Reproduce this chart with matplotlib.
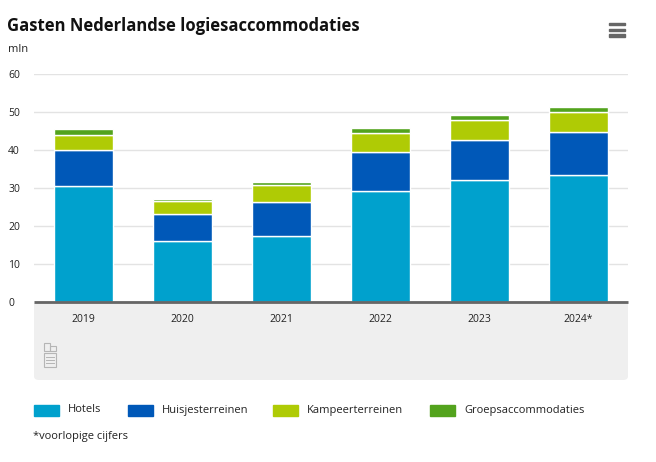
"""Gasten Nederlandse logiesaccommodaties, stacked bars per year."""

import matplotlib

matplotlib.use("Agg")
import matplotlib.pyplot as plt
import numpy as np
from matplotlib.patches import FancyBboxPatch, Rectangle

YEARS = ["2019", "2020", "2021", "2022", "2023", "2024*"]
HOTELS = [30.4, 16.0, 17.3, 29.1, 32.0, 33.3]
HUISJES = [9.5, 7.0, 8.9, 10.3, 10.5, 11.3]
KAMPEER = [4.1, 3.5, 4.5, 5.0, 5.3, 5.3]
GROEP = [1.6, 0.6, 0.9, 1.4, 1.5, 1.5]

SERIES = [
    ("Hotels", HOTELS, "#00a1cd"),
    ("Huisjesterreinen", HUISJES, "#0058b8"),
    ("Kampeerterreinen", KAMPEER, "#afcb05"),
    ("Groepsaccommodaties", GROEP, "#53a31d"),
]
LEGEND_X = [34, 128, 273, 430]  # left edge of each legend swatch, px

W, H = 656, 462


def fx(px):
    return px / W


def fy(py):
    return 1 - py / H


def fig_rect(fig, x0, y0, w, h, **kw):
    fig.patches.append(Rectangle((fx(x0), fy(y0 + h)), fx(w), fy(0) - fy(h),
                                 transform=fig.transFigure, **kw))


def main() -> None:
    plt.rcParams["font.family"] = ["Open Sans", "DejaVu Sans"]
    fig = plt.figure(figsize=(W / 100, H / 100), dpi=100)

    # grey panel behind the x labels
    panel = FancyBboxPatch(
        (fx(34), fy(380)), fx(628) - fx(34), fy(301) - fy(380),
        boxstyle="round,pad=0,rounding_size=0.008",
        transform=fig.transFigure, facecolor="#efefef", edgecolor="none", zorder=-1,
    )
    fig.patches.append(panel)

    ax = fig.add_axes([fx(34), fy(301.7), fx(628) - fx(34), fy(74) - fy(301.7)])
    ax.set_facecolor("none")
    x = np.arange(len(YEARS))
    bottom = np.zeros(len(YEARS))
    for name, values, color in SERIES:
        vals = np.asarray(values)
        ax.bar(x, vals, bottom=bottom, width=0.6, color=color,
               edgecolor="white", linewidth=1.0, zorder=3, label=name)
        bottom += vals

    ax.set_xlim(-0.5, len(YEARS) - 0.5)
    ax.set_ylim(0, 60)
    ax.set_yticks(range(0, 61, 10))
    ax.set_xticks(x, YEARS)
    ax.grid(axis="y", color="#e3e3e3", lw=1.0, zorder=0)
    for side in ("left", "right", "top"):
        ax.spines[side].set_visible(False)
    ax.spines["bottom"].set_color("#666666")
    ax.spines["bottom"].set_linewidth(2.0)
    ax.spines["bottom"].set_capstyle("butt")
    ax.spines["bottom"].set_zorder(4)
    ax.tick_params(axis="both", length=0, labelsize=7.5, colors="#222222")
    ax.tick_params(axis="x", pad=9)
    ax.tick_params(axis="y", pad=18.5)
    for lab in ax.get_yticklabels():
        lab.set_horizontalalignment("left")

    fig.text(fx(7), fy(26), "Gasten Nederlandse logiesaccommodaties",
             fontsize=12, fontweight="bold", va="center", color="#111111")
    fig.text(fx(8), fy(50), "mln", fontsize=8, va="center", color="#222222")

    # menu icon
    for py in (24, 30, 35.5):
        fig_rect(fig, 609, py - 1.2, 16, 2.4, color="#666666")

    # small cbs logo
    logo = "#b5b5b5"
    fig_rect(fig, 44, 343, 6, 8, fill=False, edgecolor=logo, lw=0.8)
    fig_rect(fig, 50, 346, 6, 5, fill=False, edgecolor=logo, lw=0.8)
    fig_rect(fig, 44, 353, 12, 14, fill=False, edgecolor=logo, lw=0.8)
    for py in (357, 360, 363):
        fig.lines.append(plt.Line2D([fx(46), fx(54)], [fy(py), fy(py)],
                                    transform=fig.transFigure, color=logo, lw=0.7))

    # legend
    for (name, _, color), lx in zip(SERIES, LEGEND_X):
        fig_rect(fig, lx, 405, 25, 11, color=color)
        fig.text(fx(lx + 34), fy(410), name, fontsize=8, va="center", color="#222222")
    fig.text(fx(33), fy(436), "*voorlopige cijfers", fontsize=8, va="center", color="#222222")

    fig.savefig("out.png", dpi=100)


if __name__ == "__main__":
    main()
